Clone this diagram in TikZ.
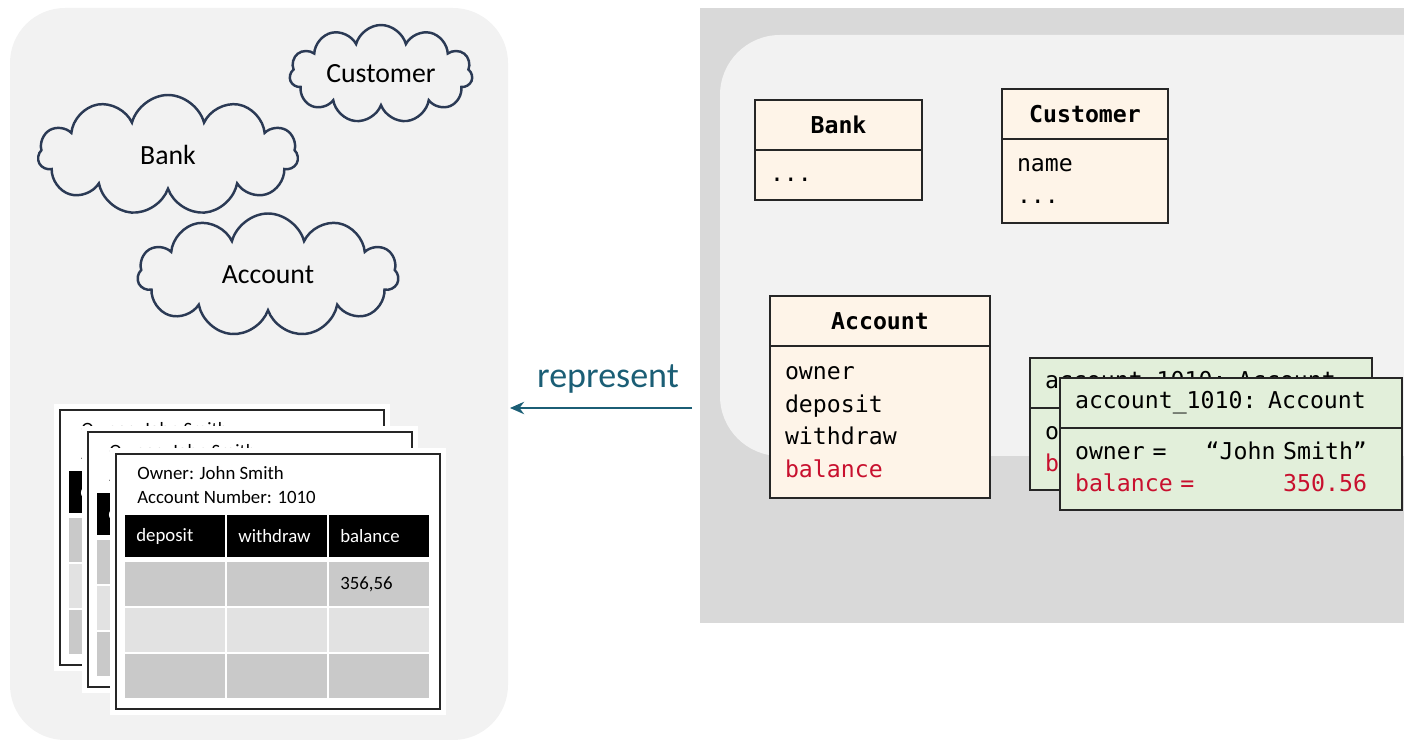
\documentclass[tikz,border=0pt]{standalone}
\usepackage{fontspec}
\setmainfont{Carlito}
\setmonofont{DejaVu Sans Mono}
\usetikzlibrary{positioning}
\usetikzlibrary{shapes.symbols}
\usetikzlibrary{matrix}
\usetikzlibrary{arrows.meta}

\definecolor{panelgray}{HTML}{F2F2F2}
\definecolor{panelback}{HTML}{D9D9D9}
\definecolor{cloudline}{HTML}{2B3A55}
\definecolor{classfill}{HTML}{FEF4E8}
\definecolor{objfill}{HTML}{E2EFDA}
\definecolor{attrred}{HTML}{C8102E}
\definecolor{reprteal}{HTML}{1B5E75}
\definecolor{rowdark}{HTML}{C9C9C9}
\definecolor{rowlight}{HTML}{E2E2E2}

\newcommand{\codefont}{\ttfamily\fontsize{13.2}{18.7}\selectfont}
\newcommand{\cardfont}{\fontsize{10.7}{13.6}\selectfont}

\tikzset{
	cell/.style={anchor=center, minimum height=0.88cm, text width=1.56cm, inner xsep=0.22cm, inner ysep=0pt, align=left, font=\cardfont},
	headcell/.style={fill=black, text=white, minimum height=0.84cm},
}

\begin{document}
\begin{tikzpicture}[x=0.02cm, y=-0.02cm, >={Stealth[length=8pt, width=7pt]}, node distance=0pt]
    \tikzstyle{cloudy}=[cloud, cloud puffs=11, cloud ignores aspect, draw=cloudline, line width=1.4pt, font=\fontsize{15.8}{19}\selectfont]
    \tikzstyle{classhead}=[draw=black!85, line width=0.9pt, fill=classfill, minimum height=1cm, outer sep=0pt, font=\codefont\bfseries]
    \tikzstyle{classbody}=[draw=black!85, line width=0.9pt, fill=classfill, inner xsep=0.3cm, inner ysep=0pt, outer sep=0pt, align=left, font=\codefont, execute at begin node=\strut, execute at end node=\strut]
    \tikzstyle{objhead}=[classhead, fill=objfill, text width=6.24cm, inner xsep=0.3cm, align=left, font=\codefont]
    \tikzstyle{objbody}=[classbody, fill=objfill, text width=6.24cm, minimum height=1.64cm]
    \tikzstyle{card}=[draw=black!85, line width=1.3pt, fill=white, preaction={draw=white, line width=0.24cm}, minimum width=6.48cm, minimum height=5.1cm]
    \tikzstyle{cardtext}=[anchor=west, align=left, inner sep=0pt, font=\cardfont]
    \tikzstyle{cardtable}=[matrix of nodes, nodes in empty cells, ampersand replacement=\&, anchor=north west, inner sep=0pt, column sep=0.04cm, row sep=0.04cm, nodes={cell}, row 1/.style={nodes={headcell}}, row 2/.style={nodes={fill=rowdark}}, row 3/.style={nodes={fill=rowlight}}, row 4/.style={nodes={fill=rowdark}}]

    \useasboundingbox (0,0) rectangle (1404,742);

    % panels
    \fill[panelgray, rounded corners=1.1cm] (10,8) rectangle (508,740);
    \fill[panelback] (700,8) rectangle (1404,623);
    \fill[panelgray, rounded corners=1.2cm] (720,35) rectangle (1470,456);

    % domain concepts
    \node[cloudy, minimum width=3.66cm, minimum height=1.96cm] (cloudcust) at (381,74) {Customer};
    \node[cloudy, minimum width=5.2cm, minimum height=2.4cm] (cloudbank) at (168,155) {Bank};
    \node[cloudy, minimum width=5.22cm, minimum height=2.46cm] (cloudacc) at (268,275) {Account};

    % paper account cards
    \node[card] (card1) at (222,537.5) {};
    \node[cardtext] (owner1) at (81,441) {Owner: John Smith\\Account Number: 1010};
    \matrix (tab1) [cardtable] at (69,471) {
        deposit \& withdraw \& balance \\[0.06cm]
        \& \& 356,56 \\
        \& \& \\
        \& \& \\
    };

    \node[card] (card2) at (250,559.5) {};
    \node[cardtext] (owner2) at (109,463) {Owner: John Smith\\Account Number: 1010};
    \matrix (tab2) [cardtable] at (97,493) {
        deposit \& withdraw \& balance \\[0.06cm]
        \& \& 356,56 \\
        \& \& \\
        \& \& \\
    };

    \node[card] (card3) at (278,581.5) {};
    \node[cardtext] (owner3) at (137,485) {Owner: John Smith\\Account Number: 1010};
    \matrix (tab3) [cardtable] at (125,515) {
        deposit \& withdraw \& balance \\[0.06cm]
        \& \& 356,56 \\
        \& \& \\
        \& \& \\
    };

    % represent arrow
    \coordinate (reprtail) at (692,408);
    \coordinate (reprtip) at (510,408);
    \draw[->, reprteal, line width=1.3pt] (reprtail) -- (reprtip);
    \node[text=reprteal, font=\fontsize{20.5}{24}\selectfont] (reprlabel) at (608,379) {represent};

    % classes
    \node[classhead, minimum width=3.34cm] (bankhead) at (838.5,125) {Bank};
    \node[classbody, below=of bankhead, text width=2.74cm, minimum height=1cm] (bankbody) {...};

    \node[classhead, minimum width=3.32cm] (custhead) at (1085,114) {Customer};
    \node[classbody, below=of custhead, text width=2.72cm, minimum height=1.68cm] (custbody) {name\\...};

    \node[classhead, minimum width=4.4cm] (acchead) at (880,321) {Account};
    \node[classbody, below=of acchead, text width=3.8cm, minimum height=3.04cm] (accbody) {owner\\deposit\\withdraw\\\textcolor{attrred}{balance}};

    % objects
    \node[objhead] (objbackhead) at (1201,383) {account\_1010: Account};
    \node[objbody, below=of objbackhead] (objbackbody) {owner =\hfill “John Smith”\hspace*{0.4cm}\null\\\textcolor{attrred}{balance =\hfill 350.56\hspace*{0.4cm}}};

    \node[objhead] (objhead) at (1231,403) {account\_1010: Account};
    \node[objbody, below=of objhead] (objbody) {owner =\hfill “John Smith”\hspace*{0.4cm}\null\\\textcolor{attrred}{balance =\hfill 350.56\hspace*{0.4cm}}};
\end{tikzpicture}
\end{document}
